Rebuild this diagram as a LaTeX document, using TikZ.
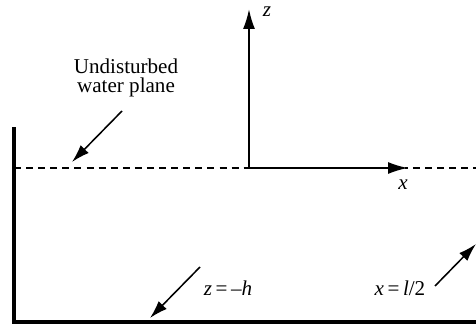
\documentclass[tikz,border=0pt]{standalone}
\usepackage{fontspec}
\setmainfont{Liberation Serif}
\usetikzlibrary{arrows.meta}

\tikzset{
  wall/.style={line width=2.9pt, line cap=rect},
  axis/.style={line width=1.4pt, -{Latex[length=0.5cm, width=0.3cm]}},
  pointer/.style={line width=1.1pt, -{Latex[length=0.45cm, width=0.28cm]}},
  waterline/.style={line width=0.8pt, dash pattern=on 5pt off 3.6pt},
  label/.style={font=\fontsize{15}{14}\selectfont, inner sep=0pt, align=center}
}

\begin{document}
\begin{tikzpicture}
		\useasboundingbox (-6.225,-3.95) rectangle (5.675,4.2);

		% Pared y fondo del tanque
		\draw[wall] (-5.875,0.975) -- (-5.875,-3.85) -- (5.675,-3.85);

		% Plano de agua sin perturbar
		\draw[waterline] (-5.875,0) -- (5.675,0);

		% Ejes
		\coordinate (O) at (0,0);
		\coordinate (ztip) at (0,3.975);
		\coordinate (xtip) at (3.975,0);
		\fill[white] (0,-0.05) rectangle (3.9,0.05);
		\draw[axis] (O) -- (ztip);
		\draw[axis] (O) -- (xtip);
		\node[label] (zlab) at (0.45,3.9) {\textit{z}};
		\node[label] (xlab) at (3.85,-0.42) {\textit{x}};

		% Etiqueta del plano
		\node[label] (plane) at (-3.075,2.25) {Undisturbed\\water plane};
		\coordinate (planeA) at (-3.175,1.425);
		\coordinate (planeB) at (-4.425,0.15);
		\draw[pointer] (planeA) -- (planeB);

		% Fondo z = -h
		\node[label] (bottom) at (-0.525,-3.0) {\textit{z}\,=\,–\textit{h}};
		\coordinate (botA) at (-1.225,-2.475);
		\coordinate (botB) at (-2.475,-3.75);
		\draw[pointer] (botA) -- (botB);

		% Pared derecha x = l/2
		\node[label] (right) at (3.775,-3.0) {\textit{x}\,=\,\textit{l}/2};
		\coordinate (rightA) at (4.65,-2.95);
		\coordinate (rightB) at (5.675,-1.9);
		\draw[pointer] (rightA) -- (rightB);
	\end{tikzpicture}
\end{document}
